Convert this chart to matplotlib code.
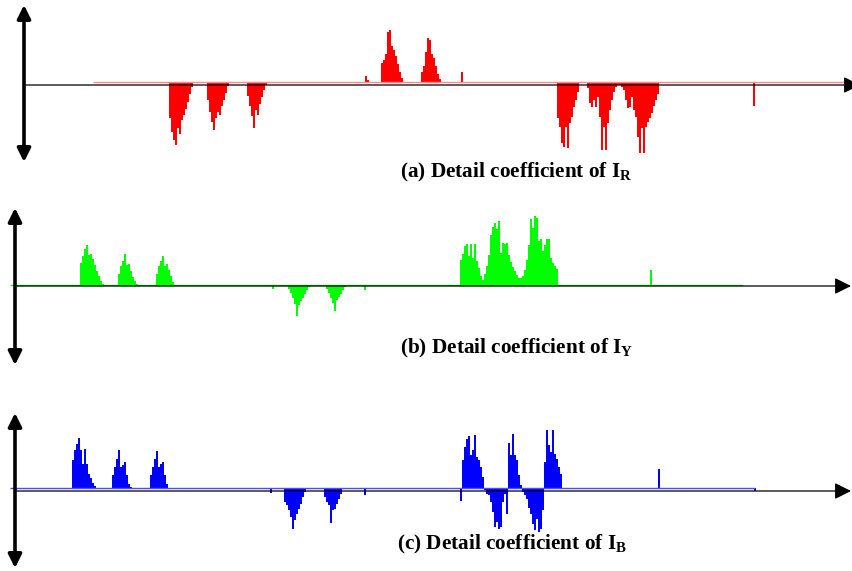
import numpy as np
import matplotlib
matplotlib.use("Agg")
import matplotlib.pyplot as plt

# detail coefficients, one list per burst; start = sample index of first value
ir_start = [73, 92, 112, 171, 179, 199, 219, 267, 282, 298, 365]
ir_vals = [
    [-36, -50, -58, -63, -46, -52, -38, -33, -27, -20, -12, -5],
    [-18, -30, -40, -48, -36, -30, -33, -24, -18, -11, -4],
    [-14, -24, -34, -46, -28, -33, -22, -15, -8, -3],
    [6, 2],
    [19, 22, 28, 50, 52, 36, 32, 26, 18, 10, 4],
    [10, 16, 30, 44, 42, 28, 24, 16, 8, 3],
    [10],
    [-36, -45, -61, -65, -45, -66, -41, -35, -25, -18, -10],
    [-6, -21, -25, -18, -25, -15, -35, -68, -45, -68, -41, -28, -18, -10, -5, -3],
    [-3, -5, -8, -18, -26, -25, -15, -28, -35, -55, -71, -46, -71, -45, -40,
     -36, -31, -24, -18, -12],
    [-24],
]

iy_start = [33, 52, 71, 129, 137, 156, 175, 223, 318]
iy_vals = [
    [22, 29, 36, 40, 30, 31, 26, 20, 14, 9, 4, 1],
    [11, 19, 24, 31, 20, 21, 14, 8, 4, 1],
    [11, 19, 24, 29, 19, 21, 15, 9, 3],
    [-4],
    [-4, -8, -13, -19, -31, -20, -16, -13, -9, -5, -2],
    [-4, -8, -13, -18, -26, -15, -12, -9, -5, -2],
    [-5],
    [25, 31, 39, 41, 29, 41, 27, 41, 24, 17, 9, 5, 11, 19, 30, 50, 58, 62, 56,
     64, 32, 42, 41, 42, 30, 23, 18, 14, 10, 7, 7, 9, 15, 25, 40, 66, 57, 69,
     67, 44, 46, 34, 40, 46, 46, 27, 22, 19, 16],
    [15],
]

ib_start = [29, 49, 68, 128, 135, 155, 175, 223, 322, 370]
ib_vals = [
    [28, 38, 44, 50, 38, 24, 39, 24, 14, 10, 5, 2],
    [13, 21, 29, 38, 21, 23, 26, 13, 4, 1],
    [13, 21, 29, 37, 21, 24, 26, 13, 4],
    [-5],
    [-14, -17, -22, -29, -41, -32, -26, -21, -16, -9, -4],
    [-9, -14, -17, -35, -22, -21, -16, -11, -6],
    [-7],
    [-13, 28, 41, 49, 52, 33, 38, 53, 31, 28, 21, 11, -2, -6, -7, -14, -24, -39,
     -34, -41, -39, -14, -6, -26, 45, 33, 54, 33, 28, 13, 3, -4, -7, -11, -20,
     -26, -36, -42, -31, -44, -41, -22, 26, 58, 43, 36, 58, 34, 29, 21, 14],
    [19],
    [-3],
]

labels = ["(a) Detail coefficient of $\\mathbf{I}_{\\mathbf{R}}$",
          "(b) Detail coefficient of $\\mathbf{I}_{\\mathbf{Y}}$",
          "(c) Detail coefficient of $\\mathbf{I}_{\\mathbf{B}}$"]

plt.rcParams['mathtext.fontset'] = 'custom'
plt.rcParams['mathtext.rm'] = 'Liberation Serif:bold'
plt.rcParams['mathtext.bf'] = 'Liberation Serif:bold'
plt.rcParams['mathtext.it'] = 'Liberation Serif:bold'

W, H = 852, 571
fig = plt.figure(figsize=(W / 100, H / 100), dpi=100)

# layout of each panel in pixels (top, bottom, axis row, origin column ...)
panels = [
    dict(start=ir_start, vals=ir_vals, color="#ff0000", base_color="#ff8a8a",
         offset=3, span=(34.5, 412), top=0, bottom=190, axis_y=85, x0=24,
         vert=(80, -77), tip=418, text_xy=(400, 177)),
    dict(start=iy_start, vals=iy_vals, color="#00ff00", base_color="#22ee22",
         offset=1, span=(-2.5, 364), top=190, bottom=385, axis_y=286, x0=15,
         vert=(78, -79), tip=418, text_xy=(400, 353)),
    dict(start=ib_start, vals=ib_vals, color="#0000ff", base_color="#4a4aff",
         offset=3, span=(-2.5, 370), top=385, bottom=571, axis_y=491, x0=15,
         vert=(78, -77), tip=418, text_xy=(397, 549)),
]

for p, label in zip(panels, labels):
    ax = fig.add_axes([0, 1 - p["bottom"] / H, 1, (p["bottom"] - p["top"]) / H])
    ax.set_xlim(-p["x0"] / 2, (W - p["x0"]) / 2)
    ax.set_ylim(-(p["bottom"] - p["axis_y"]), p["axis_y"] - p["top"])
    ax.axis("off")

    n = np.concatenate([s + np.arange(len(v)) for s, v in zip(p["start"], p["vals"])])
    v = np.concatenate([np.array(v, dtype=float) for v in p["vals"]])

    ax.hlines(p["offset"], p["span"][0], p["span"][1], color=p["base_color"], lw=1.0)
    ax.bar(n, v, width=0.9, bottom=p["offset"], color=p["color"], linewidth=0)

    # horizontal axis with arrow head
    ax.annotate("", xy=(p["tip"], 0), xytext=(0, 0), annotation_clip=False,
                arrowprops=dict(arrowstyle="-|>,head_length=0.5,head_width=0.25",
                                mutation_scale=20, lw=0.9, color="black",
                                shrinkA=0, shrinkB=0))
    # vertical double arrow
    ax.annotate("", xy=(0, p["vert"][0]), xytext=(0, p["vert"][1]),
                annotation_clip=False,
                arrowprops=dict(arrowstyle="<|-|>,head_length=0.4,head_width=0.2",
                                mutation_scale=20, lw=2.6, color="black",
                                shrinkA=0, shrinkB=0))

    fig.text(p["text_xy"][0] / W, 1 - p["text_xy"][1] / H, label,
             fontsize=15.3, fontweight="bold", family="Liberation Serif",
             ha="left", va="baseline")

fig.savefig("out.png", dpi=100)
